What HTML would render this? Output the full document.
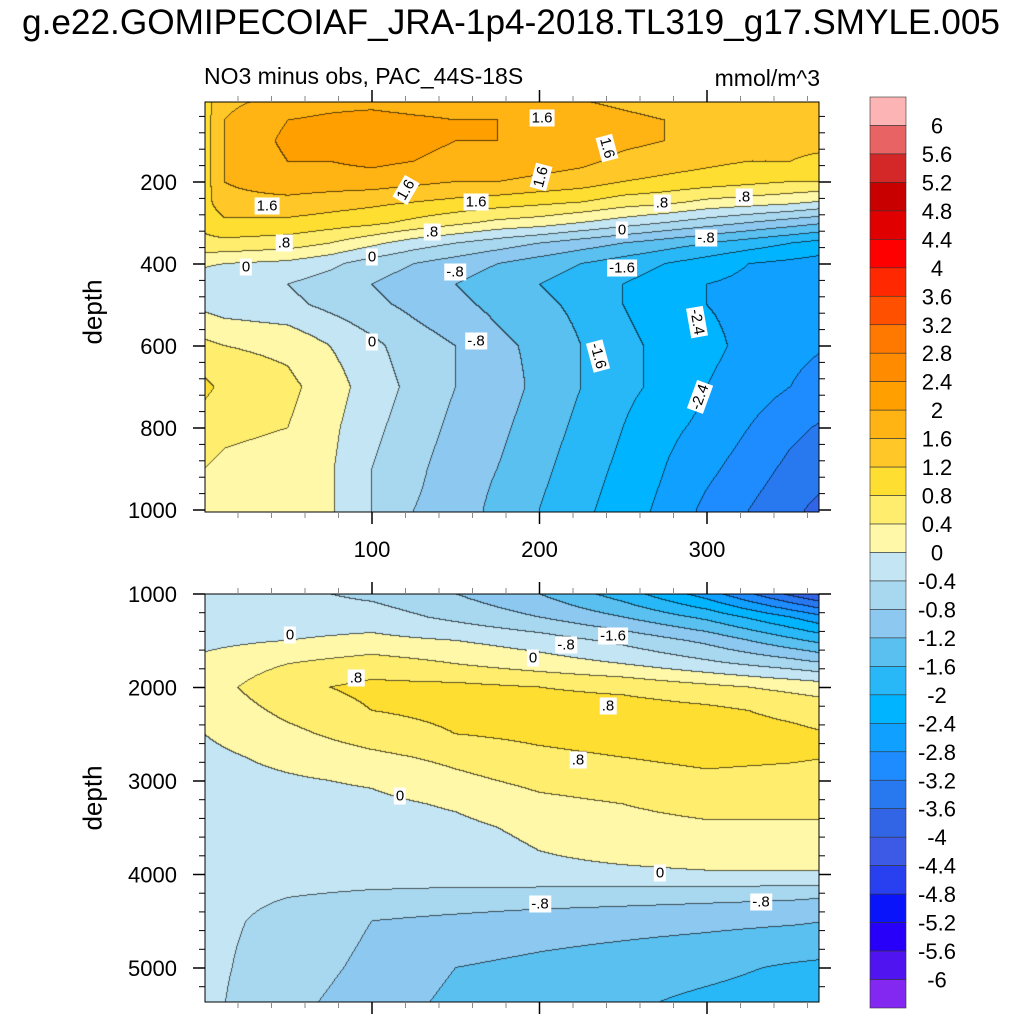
<!DOCTYPE html>
<html><head><meta charset="utf-8"><style>
body{margin:0;background:#fff;font-family:"Liberation Sans",sans-serif;}
#wrap{position:relative;width:1024px;height:1024px;overflow:hidden;}
.t{position:absolute;white-space:nowrap;color:#000;}
.lbl{position:absolute;background:#fff;font-size:15px;padding:0 2px;line-height:17px;transform:translate(-50%,-50%);}
canvas{position:absolute;}
</style></head><body>
<div id="wrap">
<div class="t" style="left:22px;top:3px;font-size:35.2px;">g.e22.GOMIPECOIAF_JRA-1p4-2018.TL319_g17.SMYLE.005</div>
<div class="t" style="left:204px;top:63px;font-size:23px;">NO3 minus obs, PAC_44S-18S</div>
<div class="t" style="right:204px;top:65px;font-size:23px;">mmol/m^3</div>
<div class="t" style="left:93px;top:312px;font-size:26px;transform:translate(-50%,-50%) rotate(-90deg);">depth</div>
<div class="t" style="left:93px;top:798px;font-size:26px;transform:translate(-50%,-50%) rotate(-90deg);">depth</div>
<canvas id="c1" width="614" height="410" style="left:205px;top:102px;"></canvas>
<canvas id="c2" width="614" height="408" style="left:205px;top:594px;"></canvas>
<svg id="svg" width="1024" height="1024" style="position:absolute;left:0;top:0"></svg>
</div>
<script>
const levels=[-6,-5.6,-5.2,-4.8,-4.4,-4,-3.6,-3.2,-2.8,-2.4,-2,-1.6,-1.2,-0.8,-0.4,0,0.4,0.8,1.2,1.6,2,2.4,2.8,3.2,3.6,4,4.4,4.8,5.2,5.6,6];
const colors=["#8228f0","#5014f0","#2800fa","#0a14fa","#2840f0","#3c5ae6","#3264e6","#2878f0","#1e8cff","#10a0ff","#00b4ff","#28b8f8","#5ac0f0","#8cc8f0","#a8d8f0","#c4e6f4","#fff8a8","#ffee6e","#ffde32","#ffc828","#ffb414","#ffa000","#ff8c00","#ff7800","#ff5000","#ff2800","#ff0000","#e00000","#c80000","#d42828","#e86464","#fdb4b4"];
const colorLabels=["6","5.6","5.2","4.8","4.4","4","3.6","3.2","2.8","2.4","2","1.6","1.2","0.8","0.4","0","-0.4","-0.8","-1.2","-1.6","-2","-2.4","-2.8","-3.2","-3.6","-4","-4.4","-4.8","-5.2","-5.6","-6"];
const topX=[0,12,50,75,100,125,150,175,200,225,250,275,300,325,350,375];
const topDepth=[0,50,100,150,200,250,300,350,400,450,500,600,700,800,900,1000];
const topVals=[
[1.0,1.5,1.7,1.8,1.8,1.7,1.7,1.6,1.6,1.6,1.5,1.4,1.4,1.3,1.3,1.3],
[1.0,1.6,2.0,2.1,2.2,2.1,2.0,2.0,1.9,1.8,1.7,1.6,1.5,1.4,1.4,1.4],
[1.0,1.6,2.1,2.2,2.2,2.1,2.0,2.0,1.9,1.8,1.7,1.6,1.5,1.4,1.3,1.3],
[1.0,1.6,2.0,2.0,2.1,2.0,1.9,1.9,1.8,1.7,1.5,1.4,1.3,1.2,1.2,1.1],
[1.0,1.6,1.8,1.8,1.8,1.7,1.6,1.6,1.5,1.4,1.2,1.1,1.0,0.9,0.8,0.8],
[1.0,1.5,1.5,1.4,1.3,1.2,1.1,1.0,0.9,0.8,0.6,0.5,0.3,0.2,0.1,-0.1],
[0.9,1.1,1.1,1.0,0.9,0.7,0.5,0.3,0.2,0.0,-0.2,-0.4,-0.6,-0.8,-1.0,-1.2],
[0.7,0.7,0.6,0.4,0.1,-0.2,-0.4,-0.6,-0.8,-1.0,-1.2,-1.4,-1.6,-1.8,-2.0,-2.2],
[0.05,0.0,-0.1,-0.3,-0.6,-0.8,-1.0,-1.2,-1.4,-1.6,-1.8,-2.0,-2.2,-2.4,-2.5,-2.6],
[-0.2,-0.3,-0.4,-0.6,-0.8,-1.0,-1.2,-1.4,-1.6,-1.8,-2.0,-2.2,-2.4,-2.5,-2.6,-2.7],
[-0.1,-0.2,-0.3,-0.5,-0.7,-0.9,-1.1,-1.3,-1.5,-1.7,-2.0,-2.2,-2.4,-2.5,-2.6,-2.7],
[0.5,0.4,0.3,0.0,-0.3,-0.6,-0.8,-1.1,-1.3,-1.6,-1.9,-2.1,-2.3,-2.5,-2.7,-2.8],
[0.9,0.7,0.5,0.2,-0.2,-0.5,-0.8,-1.0,-1.3,-1.6,-1.9,-2.1,-2.4,-2.6,-2.8,-3.0],
[0.6,0.5,0.4,0.1,-0.3,-0.6,-0.9,-1.1,-1.4,-1.7,-2.0,-2.3,-2.5,-2.8,-3.1,-3.3],
[0.4,0.3,0.2,0.05,-0.4,-0.7,-1.0,-1.2,-1.5,-1.8,-2.1,-2.4,-2.7,-3.0,-3.3,-3.5],
[0.3,0.2,0.1,0.05,-0.4,-0.8,-1.0,-1.3,-1.6,-1.9,-2.2,-2.5,-2.9,-3.2,-3.5,-3.8]];
const botX=[0,50,100,150,200,250,300,350,375];
const botDepth=[1000,1250,1500,1750,2000,2250,2500,2750,3000,3250,3500,3750,4000,4250,4500,5000,5400];
const botVals=[
[-0.2,-0.3,-0.5,-0.8,-1.2,-1.8,-2.6,-3.7,-4.2],
[-0.2,-0.2,-0.2,-0.5,-0.8,-1.2,-1.7,-2.4,-2.8],
[-0.1,0.0,0.1,0.0,-0.2,-0.5,-0.9,-1.5,-1.8],
[0.1,0.4,0.6,0.4,0.2,0.0,-0.3,-0.6,-0.8],
[0.2,0.7,0.9,0.9,0.8,0.7,0.5,0.3,0.2],
[0.1,0.5,0.8,0.9,1.0,1.0,0.9,0.7,0.6],
[0.0,0.3,0.6,0.8,0.9,1.0,1.0,0.9,0.8],
[-0.1,0.1,0.3,0.5,0.7,0.8,0.9,0.85,0.8],
[-0.15,-0.05,0.05,0.3,0.5,0.6,0.7,0.65,0.6],
[-0.2,-0.15,-0.1,0.05,0.3,0.4,0.5,0.5,0.5],
[-0.2,-0.2,-0.2,-0.1,0.1,0.3,0.35,0.35,0.35],
[-0.2,-0.2,-0.2,-0.2,0.0,0.15,0.25,0.25,0.25],
[-0.2,-0.2,-0.2,-0.2,-0.15,-0.1,-0.05,-0.05,-0.05],
[-0.3,-0.4,-0.5,-0.55,-0.6,-0.65,-0.7,-0.75,-0.8],
[-0.3,-0.5,-0.8,-0.9,-1.0,-1.05,-1.1,-1.15,-1.2],
[-0.3,-0.6,-0.9,-1.2,-1.3,-1.4,-1.5,-1.65,-1.7],
[-0.3,-0.7,-1.0,-1.3,-1.4,-1.55,-1.7,-1.8,-1.85]];
const xTicks=[100,200,300];
const topYTicks=[200,400,600,800,1000];
const botYTicks=[1000,2000,3000,4000,5000];

const PX0=205,PX1=819;
const xScale=v=>204.5+v*1.675;
const topY=d=>100+d*0.41;
const botY=d=>594+(d-1000)*0.0935;
const xInv=p=>(p-204.5)/1.675;

function interp(arr,v){let i=0;while(i<arr.length-2&&v>arr[i+1])i++;let t=(v-arr[i])/(arr[i+1]-arr[i]);return [i,Math.max(0,Math.min(1,t))];}
function val(X,D,V,x,d){const [i,tx]=interp(X,x),[j,ty]=interp(D,d);
 const a=V[j][i],b=V[j][i+1],c=V[j+1][i],e=V[j+1][i+1];
 return (a*(1-tx)+b*tx)*(1-ty)+(c*(1-tx)+e*tx)*ty;}
function bin(v){let k=0;while(k<levels.length&&v>=levels[k])k++;return k;}
function hex(h){return [parseInt(h.slice(1,3),16),parseInt(h.slice(3,5),16),parseInt(h.slice(5,7),16)];}
const rgb=colors.map(hex);
function draw(id,X,D,V,top,yInvFn){
 const cv=document.getElementById(id),ctx=cv.getContext('2d'),W=cv.width,H=cv.height;
 const img=ctx.createImageData(W,H);const bins=new Int16Array(W*H);
 for(let y=0;y<H;y++)for(let x=0;x<W;x++){bins[y*W+x]=bin(val(X,D,V,xInv(PX0+x+0.5),yInvFn(top+y+0.5)));}
 for(let y=0;y<H;y++)for(let x=0;x<W;x++){const k=bins[y*W+x];let c=rgb[k];
  const edge=(x<W-1&&bins[y*W+x+1]!==k)||(y<H-1&&bins[(y+1)*W+x]!==k);
  const o=(y*W+x)*4;if(edge){img.data[o]=c[0]*0.35;img.data[o+1]=c[1]*0.35;img.data[o+2]=c[2]*0.35;}else{img.data[o]=c[0];img.data[o+1]=c[1];img.data[o+2]=c[2];}img.data[o+3]=255;}
 ctx.putImageData(img,0,0);}
draw('c1',topX,topDepth,topVals,102,p=>(p-100)/0.41);
draw('c2',botX,botDepth,botVals,594,p=>1000+(p-594)/0.0935);

const svg=document.getElementById('svg');const NS='http://www.w3.org/2000/svg';
function mk(tag,attrs,name){const e=document.createElementNS(NS,tag);for(const k in attrs)e.setAttribute(k,attrs[k]);
 
 
 svg.appendChild(e);return e;}
function txt(x,y,s,anchor,size,name){const e=mk('text',{x:x,y:y,'text-anchor':anchor,'font-size':size,'font-family':'Liberation Sans, sans-serif'},name);e.textContent=s;return e;}
function panel(y0,y1,yTicks,yFn,labelsBelow,minorStep,dmin,dmax,pname){
 mk('rect',{x:PX0,y:y0,width:PX1-PX0,height:y1-y0,fill:'none',stroke:'#000','stroke-width':1},pname+'-frame');
 for(let v=20;v<=360;v+=20){const x=xScale(v);const major=v%100===0;const L=major?12:6;
  mk('line',{x1:x,x2:x,y1:y0,y2:y0-L,stroke:major?'#000':'#888','stroke-width':major?1.5:1},pname+'-x-tick-top');
  mk('line',{x1:x,x2:x,y1:y1,y2:y1+L,stroke:major?'#000':'#888','stroke-width':major?1.5:1},pname+'-x-tick-bottom');}
 if(labelsBelow)xTicks.forEach(v=>txt(xScale(v),y1+45,String(v),'middle',22,'x-tick-label'));
 for(let d=dmin;d<=dmax;d+=minorStep){const y=yFn(d);if(y<y0-0.5||y>y1+0.5)continue;const major=yTicks.includes(d);const L=major?12:6;
  mk('line',{x1:PX0,x2:PX0-L,y1:y,y2:y,stroke:'#000','stroke-width':major?1.5:1},pname+'-y-tick-left');
  mk('line',{x1:PX1,x2:PX1+L,y1:y,y2:y,stroke:'#000','stroke-width':major?1.5:1},pname+'-y-tick-right');}
 yTicks.forEach(d=>txt(PX0-28,yFn(d)+8,String(d),'end',22,'y-tick-label'));
}
panel(102,512,topYTicks,topY,true,40,40,1000,'top-panel');
panel(594,1002,botYTicks,botY,false,200,1000,5400,'bottom-panel');
const CB0=97,CBH=(1008-97)/32;
for(let i=0;i<32;i++){mk('rect',{x:870,y:CB0+i*CBH,width:36,height:CBH,fill:colors[31-i],stroke:'#333','stroke-width':0.6},'colorbar-box');}
colorLabels.forEach((s,i)=>txt(937,CB0+(i+1)*CBH+8,s,'middle',22,'colorbar-label'));
</script>
<div class="lbl" style="left:542px;top:118px">1.6</div>
<div class="lbl" style="left:607px;top:148px;transform:translate(-50%,-50%) rotate(75deg)">1.6</div>
<div class="lbl" style="left:541px;top:177px;transform:translate(-50%,-50%) rotate(-75deg)">1.6</div>
<div class="lbl" style="left:406px;top:190px;transform:translate(-50%,-50%) rotate(-60deg)">1.6</div>
<div class="lbl" style="left:267px;top:206px">1.6</div>
<div class="lbl" style="left:476px;top:202px">1.6</div>
<div class="lbl" style="left:662px;top:203px">.8</div>
<div class="lbl" style="left:744px;top:197px">.8</div>
<div class="lbl" style="left:432px;top:232px">.8</div>
<div class="lbl" style="left:284px;top:243px">.8</div>
<div class="lbl" style="left:622px;top:230px">0</div>
<div class="lbl" style="left:706px;top:238px">-.8</div>
<div class="lbl" style="left:372px;top:257px">0</div>
<div class="lbl" style="left:246px;top:267px">0</div>
<div class="lbl" style="left:622px;top:268px">-1.6</div>
<div class="lbl" style="left:455px;top:272px">-.8</div>
<div class="lbl" style="left:697px;top:322px;transform:translate(-50%,-50%) rotate(80deg)">-2.4</div>
<div class="lbl" style="left:372px;top:342px">0</div>
<div class="lbl" style="left:476px;top:341px">-.8</div>
<div class="lbl" style="left:598px;top:356px;transform:translate(-50%,-50%) rotate(75deg)">-1.6</div>
<div class="lbl" style="left:700px;top:397px;transform:translate(-50%,-50%) rotate(-70deg)">-2.4</div>
<div class="lbl" style="left:290px;top:635px">0</div>
<div class="lbl" style="left:613px;top:636px">-1.6</div>
<div class="lbl" style="left:566px;top:645px">-.8</div>
<div class="lbl" style="left:533px;top:658px">0</div>
<div class="lbl" style="left:356px;top:678px">.8</div>
<div class="lbl" style="left:608px;top:706px">.8</div>
<div class="lbl" style="left:578px;top:760px">.8</div>
<div class="lbl" style="left:400px;top:796px">0</div>
<div class="lbl" style="left:660px;top:873px">0</div>
<div class="lbl" style="left:540px;top:904px">-.8</div>
<div class="lbl" style="left:761px;top:902px">-.8</div>
</body></html>
